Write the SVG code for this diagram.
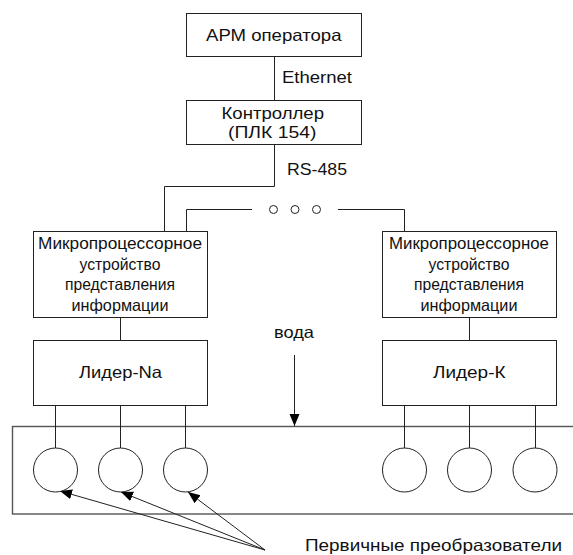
<svg xmlns="http://www.w3.org/2000/svg" width="573" height="555" viewBox="0 0 573 555">
  <style>
    .box { fill: #fff; stroke: #222; stroke-width: 1; }
    .wire { fill: none; stroke: #222; stroke-width: 1; }
    .sensor { fill: #fff; stroke: #222; stroke-width: 1; }
    .tank { fill: none; stroke: #555; stroke-width: 1.4; }
    .lbl { font-family: "Liberation Sans", Arial, sans-serif; font-size: 16.5px; fill: #111; }
    .mid { text-anchor: middle; }
  </style>
  <defs>
    <marker id="head" markerUnits="userSpaceOnUse" markerWidth="13" markerHeight="11" refX="12" refY="5" orient="auto">
      <path d="M0,0 L12,5 L0,10 z" fill="#000"/>
    </marker>
  </defs>

  <rect width="573" height="555" fill="#fff"/>

  <!-- vessel with the primary transducers -->
  <rect id="tank" class="tank" x="12.5" y="426.5" width="575" height="87.5"/>

  <g id="connectors">
    <path class="wire" d="M274.5,56.5 V100.5"/>
    <path class="wire" d="M274.5,144.5 V186.5 H164.5 V231.5"/>
    <path class="wire" d="M186.5,231.5 V209.5 H252"/>
    <path class="wire" d="M338,209.5 H404.5 V231.5"/>
    <circle class="wire" cx="273.5" cy="209.5" r="4"/>
    <circle class="wire" cx="295" cy="209.5" r="4"/>
    <circle class="wire" cx="316.5" cy="209.5" r="4"/>
    <path class="wire" d="M120.5,317.5 V340.5"/>
    <path class="wire" d="M469.5,317.5 V340.5"/>
    <path class="wire" d="M55.5,405.5 V448 M120.5,405.5 V448 M185.5,405.5 V448"/>
    <path class="wire" d="M404.5,405.5 V448 M469.5,405.5 V448 M535.5,405.5 V448"/>
    <path class="wire" d="M294.5,355 V426" marker-end="url(#head)"/>
    <path class="wire" d="M265,550 L60,491" marker-end="url(#head)"/>
    <path class="wire" d="M265,550 L121,492" marker-end="url(#head)"/>
    <path class="wire" d="M265,550 L188,492" marker-end="url(#head)"/>
  </g>

  <g id="arm">
    <rect class="box" x="186.5" y="13.5" width="175" height="43"/>
    <text class="lbl" x="206" y="40.5" textLength="135.5" lengthAdjust="spacingAndGlyphs">АРМ оператора</text>
  </g>

  <text id="ethernet" class="lbl" x="282" y="83" textLength="70" lengthAdjust="spacingAndGlyphs">Ethernet</text>

  <g id="plc">
    <rect class="box" x="186.5" y="100.5" width="175" height="44"/>
    <text class="lbl" x="221.5" y="118.5" textLength="102.5" lengthAdjust="spacingAndGlyphs">Контроллер</text>
    <text class="lbl" x="228" y="137.5" textLength="88.5" lengthAdjust="spacingAndGlyphs">(ПЛК 154)</text>
  </g>

  <text id="rs485" class="lbl" x="287" y="175" textLength="60" lengthAdjust="spacingAndGlyphs">RS-485</text>

  <g id="mpu-left">
    <rect class="box" x="33.5" y="231.5" width="174" height="86"/>
    <text class="lbl mid" x="120" y="249" textLength="164" lengthAdjust="spacingAndGlyphs">Микропроцессорное</text>
    <text class="lbl mid" x="120" y="269.5" textLength="81" lengthAdjust="spacingAndGlyphs">устройство</text>
    <text class="lbl mid" x="120" y="290" textLength="110" lengthAdjust="spacingAndGlyphs">представления</text>
    <text class="lbl mid" x="120" y="310.5" textLength="97" lengthAdjust="spacingAndGlyphs">информации</text>
  </g>

  <g id="mpu-right">
    <rect class="box" x="382.5" y="231.5" width="174" height="86"/>
    <text class="lbl mid" x="469" y="249" textLength="160" lengthAdjust="spacingAndGlyphs">Микропроцессорное</text>
    <text class="lbl mid" x="469" y="269.5" textLength="81" lengthAdjust="spacingAndGlyphs">устройство</text>
    <text class="lbl mid" x="469" y="290" textLength="110" lengthAdjust="spacingAndGlyphs">представления</text>
    <text class="lbl mid" x="469" y="310.5" textLength="97" lengthAdjust="spacingAndGlyphs">информации</text>
  </g>

  <g id="lider-na">
    <rect class="box" x="33.5" y="340.5" width="174" height="65"/>
    <text class="lbl" x="79" y="378" textLength="83" lengthAdjust="spacingAndGlyphs">Лидер-Na</text>
  </g>

  <g id="lider-k">
    <rect class="box" x="382.5" y="340.5" width="174" height="65"/>
    <text class="lbl" x="433" y="378" textLength="72.5" lengthAdjust="spacingAndGlyphs">Лидер-К</text>
  </g>

  <text id="water" class="lbl" x="274" y="338" textLength="40" lengthAdjust="spacingAndGlyphs">вода</text>

  <g id="sensors">
    <circle class="sensor" cx="55.5" cy="470" r="22"/>
    <circle class="sensor" cx="120.5" cy="470" r="22"/>
    <circle class="sensor" cx="185.5" cy="470" r="22"/>
    <circle class="sensor" cx="404.5" cy="470" r="22"/>
    <circle class="sensor" cx="469.5" cy="470" r="22"/>
    <circle class="sensor" cx="535" cy="470" r="22"/>
  </g>

  <text id="sensors-label" class="lbl" x="305" y="550.5" textLength="257" lengthAdjust="spacingAndGlyphs">Первичные преобразователи</text>
</svg>
